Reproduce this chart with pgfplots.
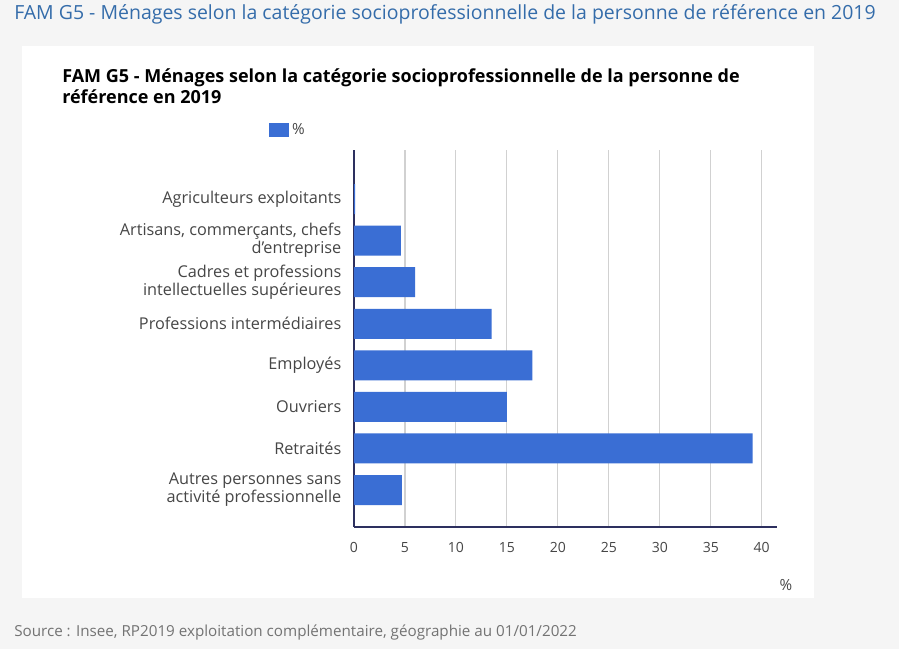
\documentclass[border=0pt]{standalone}
\usepackage{pgfplots}
\pgfplotsset{compat=1.18}
\usepackage{fontspec}
\setmainfont{Open Sans}
\definecolor{barblue}{RGB}{58,110,212}
\definecolor{titleblue}{RGB}{52,108,170}
\definecolor{axisnavy}{RGB}{45,48,95}
\definecolor{lbl}{RGB}{70,70,70}
\begin{document}
\begin{tikzpicture}[x=0.75pt,y=-0.75pt]
\fill[black!4] (0,0) rectangle (899,649);
\fill[white] (22,46) rectangle (814,598);
\node[anchor=west, text=titleblue, font=\fontsize{14.6}{17}\selectfont, inner sep=0pt] at (14,14) {FAM G5 - Ménages selon la catégorie socioprofessionnelle de la personne de référence en 2019};
\node[anchor=north west, align=left, font=\bfseries\fontsize{13.5}{15.75}\selectfont, inner sep=0pt] at (62,68) {FAM G5 - Ménages selon la catégorie socioprofessionnelle de la personne de\\référence en 2019};
\node[anchor=west, text=black!55, font=\fontsize{11.4}{13}\selectfont, inner sep=0pt] at (14,632) {Source : Insee, RP2019 exploitation complémentaire, géographie au 01/01/2022};
\begin{axis}[
 at={(265.5pt,-395.25pt)}, anchor=south west,
 scale only axis, width=317.25pt, height=282.75pt,
 xbar, bar width=22.5pt, bar shift=0pt,
 xmin=0, xmax=41.5, ymin=-1.18, ymax=7.89, y dir=reverse,
 xtick={0,5,...,40}, ytick={0,...,7},
 yticklabels={{Agriculteurs exploitants},{Artisans, commerçants, chefs\\d'entreprise},{Cadres et professions\\intellectuelles supérieures},{Professions intermédiaires},{Employés},{Ouvriers},{Retraités},{Autres personnes sans\\activité professionnelle}},
 axis x line*=bottom, axis y line*=left,
 axis line style={axisnavy, line width=1.2pt, -},
 major tick length=0pt,
 xmajorgrids, grid style={black!18, line width=0.8pt},
 tick label style={text=lbl},
 yticklabel style={align=right, xshift=-6pt, font=\fontsize{12.2}{13.5}\selectfont},
 xticklabel style={yshift=-8pt, font=\fontsize{10.5}{12}\selectfont},
 /pgf/number format/assume math mode=true,
 legend style={at={(-0.21,1.053)}, anchor=west, draw=none, fill=none, font=\fontsize{11.5}{13}\selectfont, text=lbl},
 legend image code/.code={\fill[#1] (0pt,-5.6pt) rectangle (15pt,5.6pt);},
 clip=false
]
\addplot[fill=barblue, draw=none] coordinates {(0.1,0) (4.6,1) (6.0,2) (13.5,3) (17.5,4) (15.0,5) (39.1,6) (4.7,7)};
\addlegendentry{\%}
\end{axis}
\node[text=lbl, font=\fontsize{11.5}{13}\selectfont] at (786,585) {\%};
\end{tikzpicture}
\end{document}
